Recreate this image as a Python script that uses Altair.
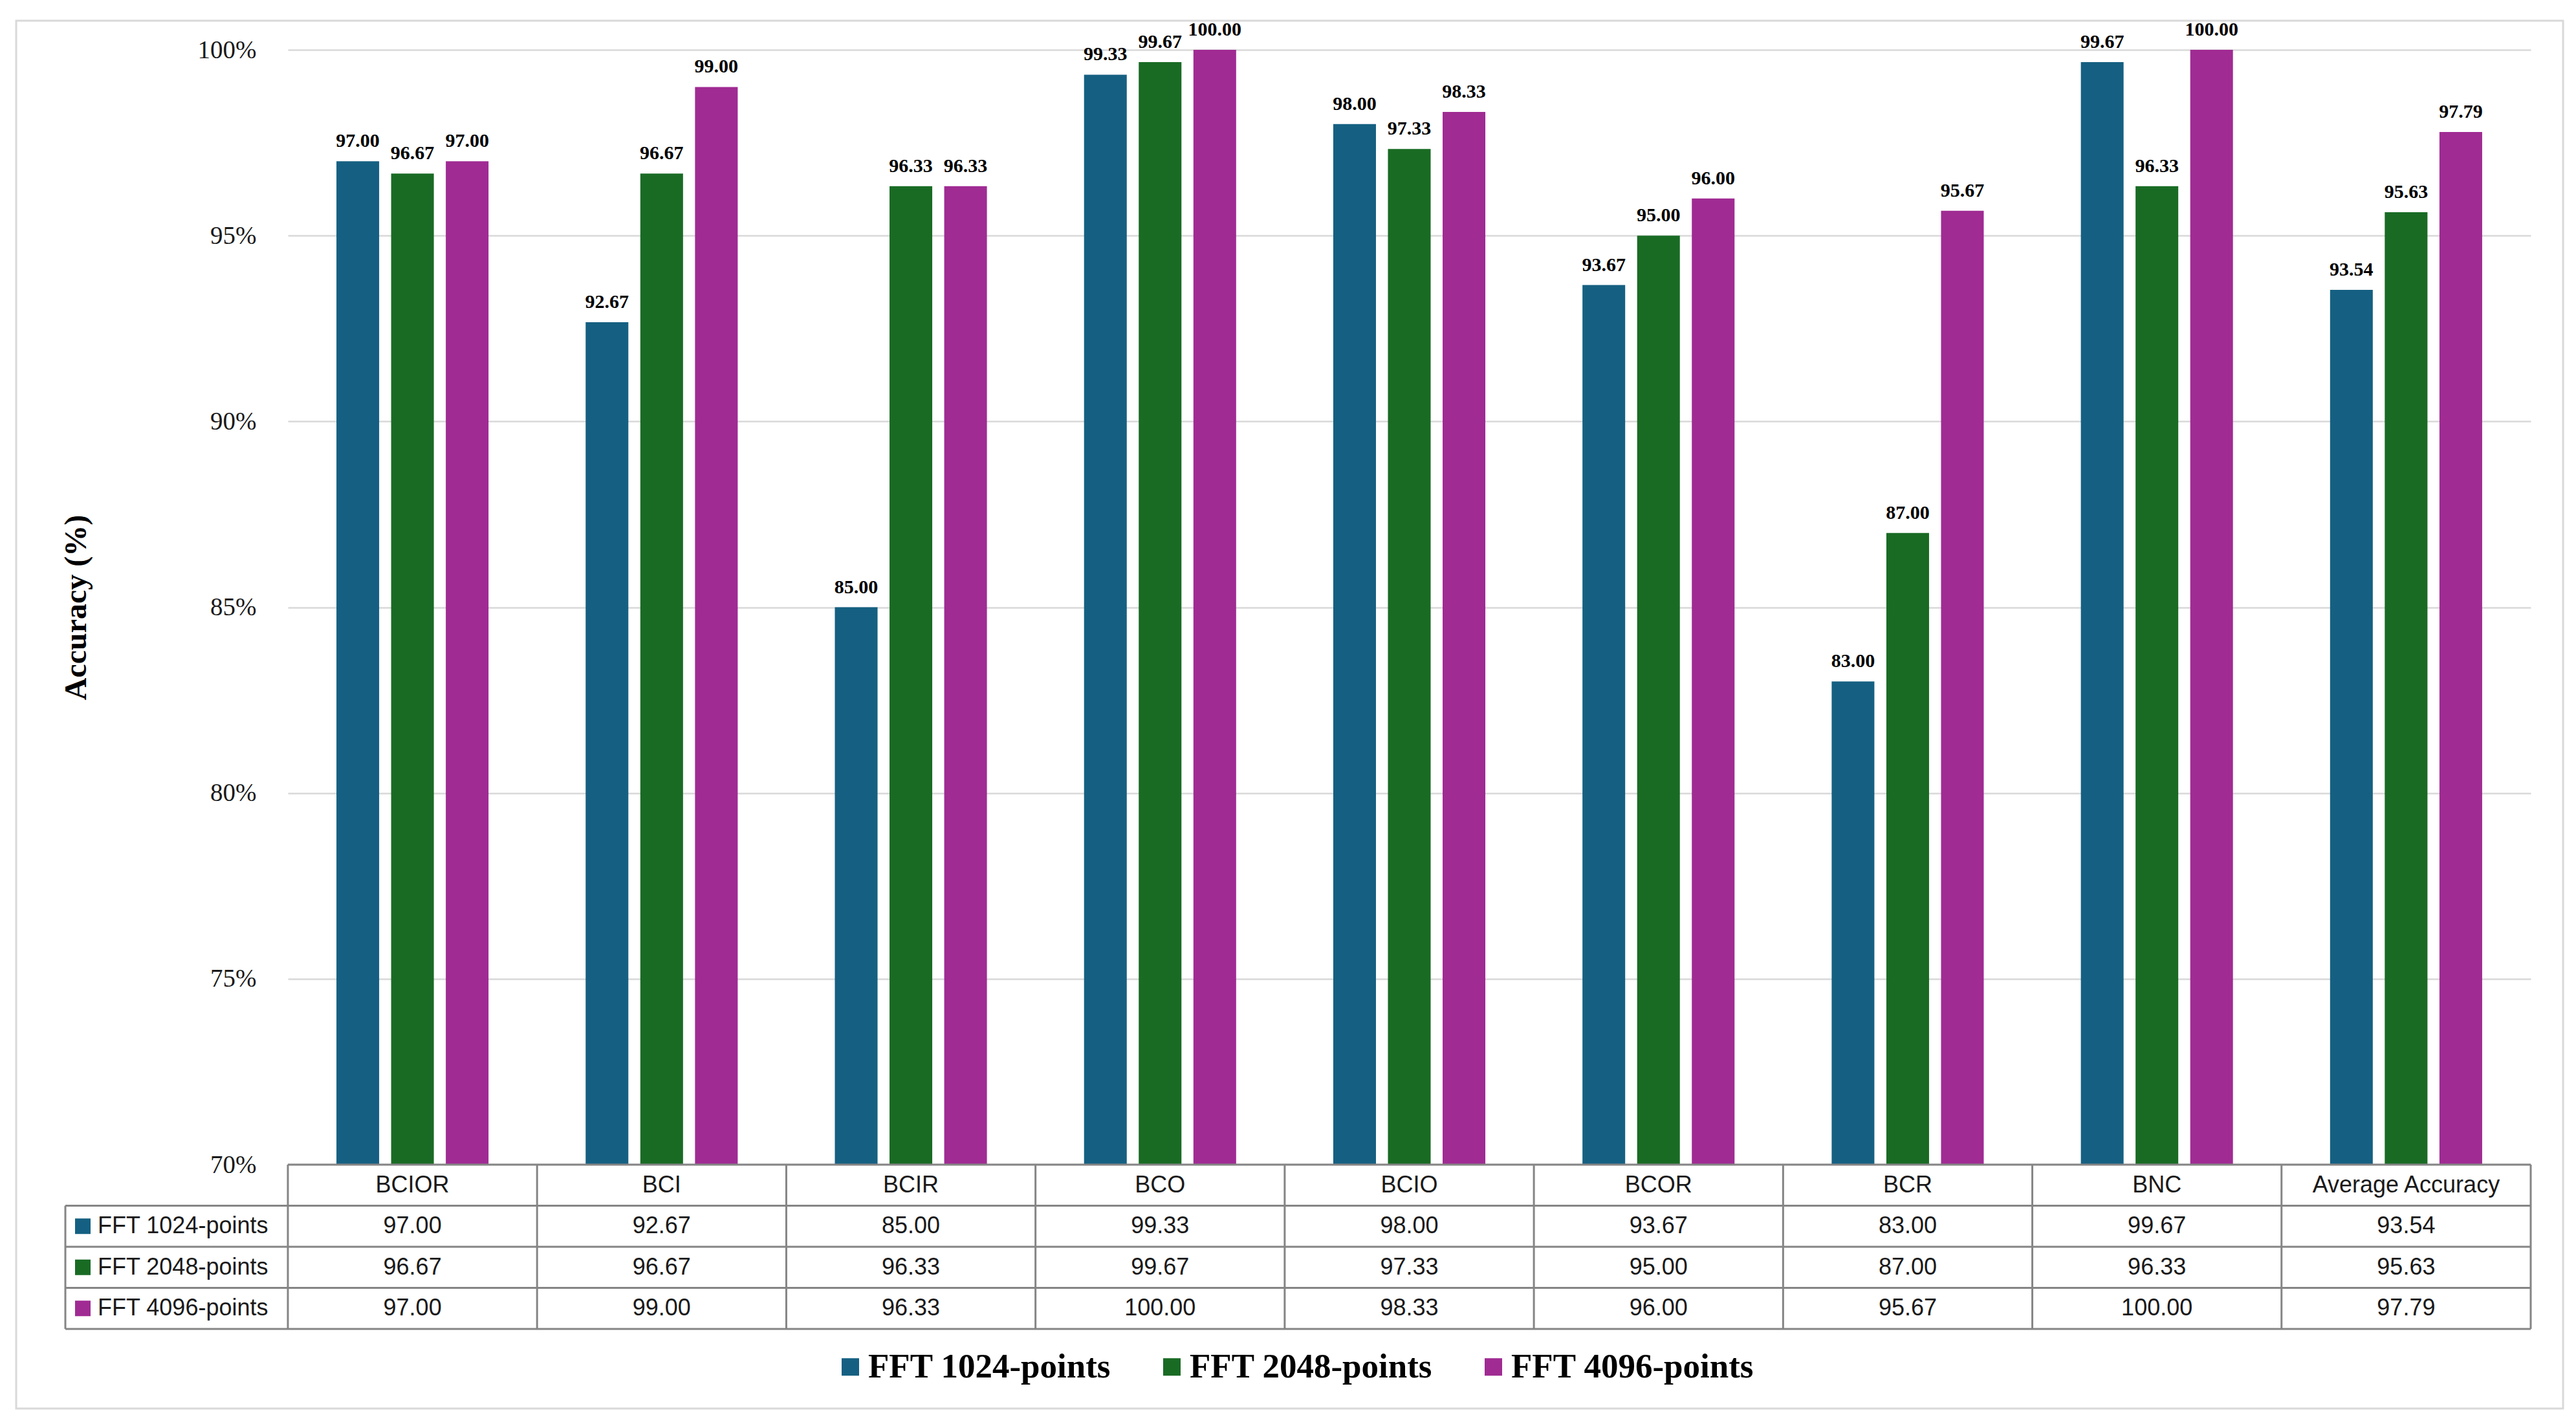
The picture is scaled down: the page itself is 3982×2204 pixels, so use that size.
import altair as alt
import pandas as pd

categories = ["BCIOR", "BCI", "BCIR", "BCO", "BCIO", "BCOR", "BCR", "BNC", "Average Accuracy"]
series = ["FFT 1024-points", "FFT 2048-points", "FFT 4096-points"]
fft1024 = [97.00, 92.67, 85.00, 99.33, 98.00, 93.67, 83.00, 99.67, 93.54]
fft2048 = [96.67, 96.67, 96.33, 99.67, 97.33, 95.00, 87.00, 96.33, 95.63]
fft4096 = [97.00, 99.00, 96.33, 100.00, 98.33, 96.00, 95.67, 100.00, 97.79]
y_ticks = [70, 75, 80, 85, 90, 95, 100]
y_min = 70
colors = ["#156082", "#196B24", "#A02B93"]

rows = []
for s, vals in zip(series, [fft1024, fft2048, fft4096]):
    for c, v in zip(categories, vals):
        rows.append({"category": c, "series": s, "value": v})
df = pd.DataFrame(rows)
hdr_df = pd.DataFrame({"category": categories, "series": ["header"] * len(categories)})
ser_df = pd.DataFrame({"series": series})
cat_df = pd.DataFrame({"category": categories})
one = pd.DataFrame({"k": [0]})

W = 3467
H = 1723
HT = 254
RH = HT / 4
BORDER = "#858585"
SERIF = "Liberation Serif"
SANS = "Liberation Sans"

xscale = alt.Scale(domain=categories, paddingInner=0, paddingOuter=0)
xoff_scale = alt.Scale(domain=series, paddingInner=0.219, paddingOuter=0.888)
cscale = alt.Scale(domain=series, range=colors)
yscale = alt.Scale(domain=[70, 100], zero=False)

frame = alt.Chart(one).mark_rect(fillOpacity=0, stroke="#d9d9d9", strokeWidth=3).encode(
    x=alt.value(-420), x2=alt.value(3517), y=alt.value(-45), y2=alt.value(2100)
)

bars = alt.Chart(df).mark_bar().encode(
    x=alt.X("category:N", scale=xscale, axis=None),
    xOffset=alt.XOffset("series:N", scale=xoff_scale),
    y=alt.Y(
        "value:Q",
        scale=yscale,
        axis=alt.Axis(
            values=y_ticks,
            labelExpr="datum.value + '%'",
            title="Accuracy (%)",
            titleFont=SERIF,
            titleFontWeight="bold",
            titleFontSize=48,
            titleColor="black",
            titleX=-327,
            titleY=H / 2,
            titleAngle=270,
            titleAlign="center",
            titleBaseline="middle",
            labelFont=SERIF,
            labelFontSize=39,
            labelColor="#1a1a1a",
            labelPadding=49,
            ticks=False,
            tickSize=0,
            domain=False,
            grid=True,
            gridColor="#d9d9d9",
            gridWidth=2.5,
        ),
    ),
    y2=alt.datum(y_min),
    color=alt.Color(
        "series:N",
        scale=cscale,
        legend=alt.Legend(
            title=None,
            orient="none",
            legendX=843,
            legendY=2009,
            direction="horizontal",
            symbolType="square",
            symbolSize=729,
            symbolStrokeWidth=0,
            labelFont=SERIF,
            labelFontWeight="bold",
            labelFontSize=53,
            labelColor="black",
            labelOffset=1,
            columnPadding=67,
            labelLimit=0,
            padding=0,
        ),
    ),
)

labels = alt.Chart(df).mark_text(
    font=SERIF, fontWeight="bold", fontSize=30, baseline="alphabetic", dy=-22, color="black"
).encode(
    x=alt.X("category:N", scale=xscale, axis=None),
    xOffset=alt.XOffset("series:N", scale=xoff_scale),
    y=alt.Y("value:Q", scale=yscale),
    text=alt.Text("value:Q", format=".2f"),
)

bar_chart = alt.layer(frame, bars, labels).properties(width=W, height=H)

tyscale = alt.Scale(domain=["header"] + series, paddingInner=0, paddingOuter=0)
line = dict(color=BORDER, strokeWidth=3)

cells = alt.Chart(df).mark_text(font=SANS, fontSize=36, color="#1a1a1a", baseline="middle").encode(
    x=alt.X("category:N", scale=xscale, axis=None),
    y=alt.Y("series:N", scale=tyscale, axis=None),
    text=alt.Text("value:Q", format=".2f"),
)
hdr = alt.Chart(hdr_df).mark_text(font=SANS, fontSize=36, color="#1a1a1a", baseline="middle").encode(
    x=alt.X("category:N", scale=xscale, axis=None),
    y=alt.Y("series:N", scale=tyscale, axis=None),
    text="category:N",
)
hlines = alt.Chart(ser_df).mark_rule(**line).encode(
    y=alt.Y("series:N", bandPosition=0, scale=tyscale, axis=None),
    x=alt.value(-344),
    x2=alt.value(W),
)
top_line = alt.Chart(one).mark_rule(**line).encode(y=alt.value(0), x=alt.value(0), x2=alt.value(W))
bottom_line = alt.Chart(one).mark_rule(**line).encode(y=alt.value(HT), x=alt.value(-344), x2=alt.value(W))
vlines = alt.Chart(cat_df).mark_rule(**line).encode(
    x=alt.X("category:N", bandPosition=0, scale=xscale, axis=None),
    y=alt.value(0),
    y2=alt.value(HT),
)
right_line = alt.Chart(one).mark_rule(**line).encode(x=alt.value(W), y=alt.value(0), y2=alt.value(HT))
left_line = alt.Chart(one).mark_rule(**line).encode(x=alt.value(-344), y=alt.value(RH), y2=alt.value(HT))
swatches = alt.Chart(ser_df).mark_square(size=576, opacity=1).encode(
    x=alt.value(-317),
    y=alt.Y("series:N", scale=tyscale, axis=None),
    color=alt.Color("series:N", scale=cscale, legend=None),
)
row_labels = alt.Chart(ser_df).mark_text(
    font=SANS, fontSize=36, color="#1a1a1a", align="left", baseline="middle"
).encode(
    x=alt.value(-294),
    y=alt.Y("series:N", scale=tyscale, axis=None),
    text="series:N",
)

table = alt.layer(
    cells, hdr, hlines, top_line, bottom_line, vlines, right_line, left_line, swatches, row_labels
).properties(width=W, height=HT)

chart = (
    alt.vconcat(bar_chart, table, spacing=0, bounds="flush")
    .resolve_scale(color="independent")
    .resolve_legend(color="independent")
    .properties(padding={"left": 15, "top": 22, "right": 5, "bottom": 5}, background="white")
    .configure_view(stroke=None)
)

chart.save("out.html", embed_options={"renderer": "svg", "actions": False})
